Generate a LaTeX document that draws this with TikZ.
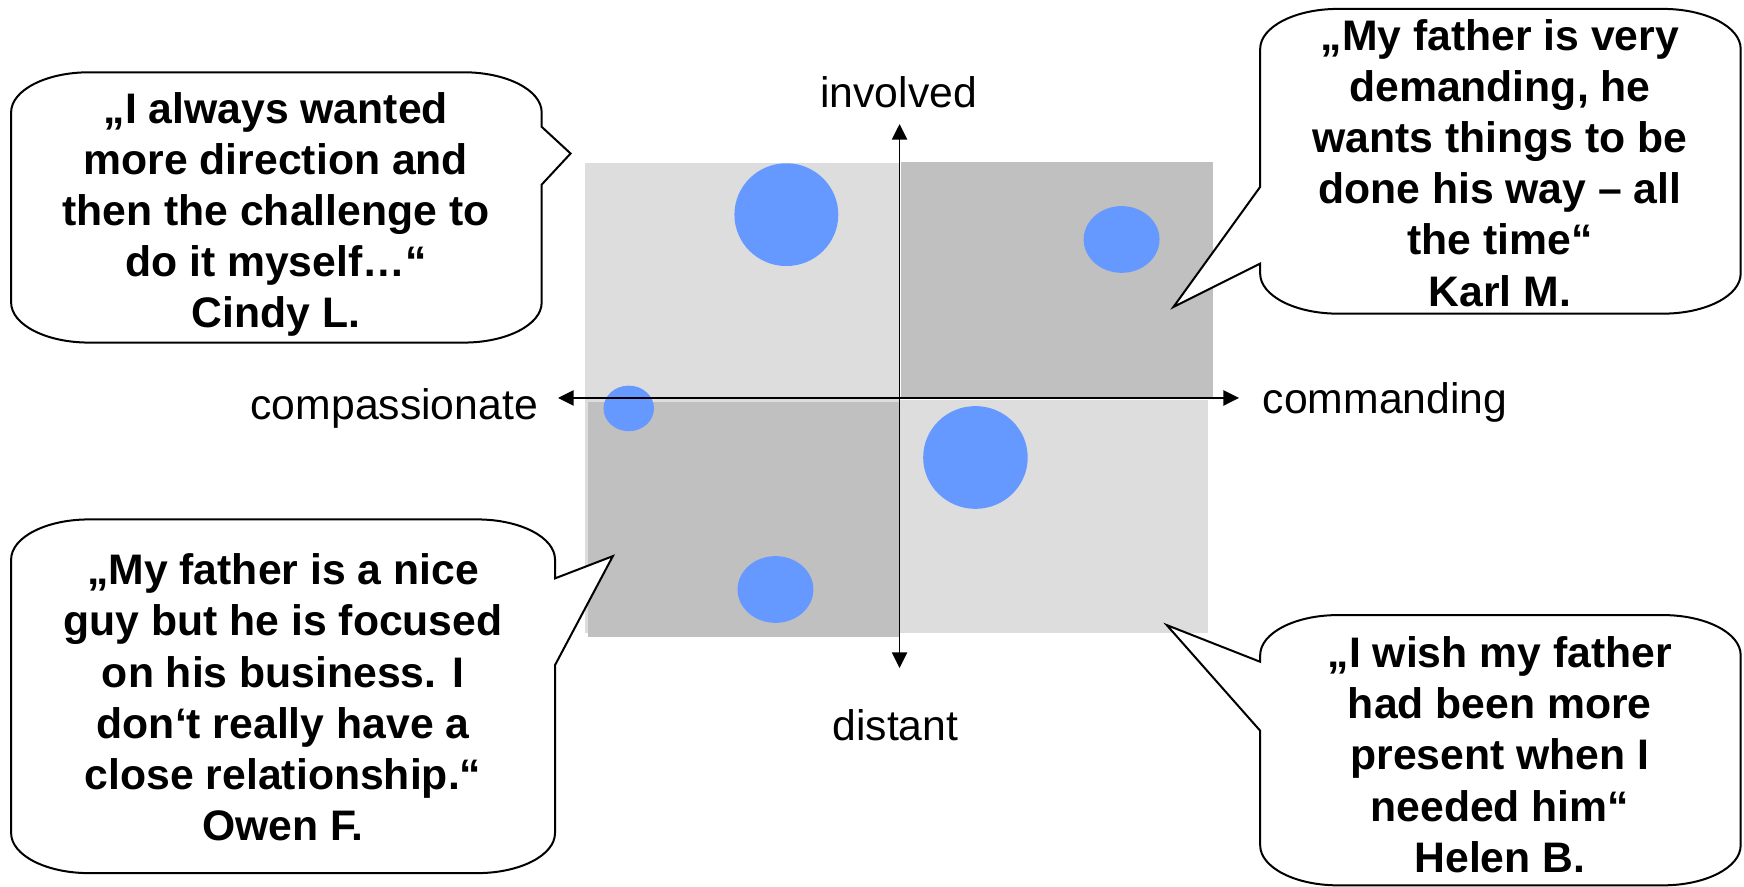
\documentclass[tikz,border=0pt]{standalone}
\usepackage{fontspec}
\setmainfont{Liberation Sans}
\usetikzlibrary{arrows.meta}
\definecolor{quadlight}{HTML}{DDDDDD}
\definecolor{quaddark}{HTML}{C0C0C0}
\definecolor{dotblue}{HTML}{6699FF}
\tikzset{
  bubble/.style={draw=black, line width=0.9pt, fill=white, line join=miter},
  quote/.style={align=center, inner sep=0pt, font=\fontsize{19.2}{23}\selectfont\bfseries},
  axislabel/.style={inner sep=0pt, font=\fontsize{19.2}{23}\selectfont},
  axisline/.style={line width=0.8pt, {Triangle[length=7pt,width=6.8pt]}-{Triangle[length=7pt,width=6.8pt]}},
  dot/.style={fill=dotblue, draw=none}
}
\begin{document}
\begin{tikzpicture}[x=0.5pt, y=-0.5pt]
\useasboundingbox (0,0) rectangle (1568,797);
% quadrants
\fill[quadlight] (526,146.5) rectangle (809,569);
\fill[quadlight] (809,359.4) rectangle (1085.8,569);
\fill[quaddark] (810,146) rectangle (1090.6,357.8);
\fill[quaddark] (529,361) rectangle (808,572.4);
% dots
\fill[dot] (707,193) ellipse [x radius=46.7, y radius=46.2];
\fill[dot] (1008.4,215.3) ellipse [x radius=34.1, y radius=30];
\fill[dot] (565.3,367.2) ellipse [x radius=22.7, y radius=20.5];
\fill[dot] (877,411.3) ellipse [x radius=47, y radius=46.2];
\fill[dot] (697.2,530) ellipse [x radius=34.1, y radius=30];
% axes
\coordinate (hl) at (501.7,357.8);
\coordinate (hr) at (1114,357.8);
\coordinate (vt) at (808.8,111.5);
\coordinate (vb) at (808.8,600.6);
\draw[axisline] (hl) -- (hr);
\draw[axisline] (vb) -- (vt);
% axis labels
\node[axislabel, anchor=base] (involved) at (808,96.8) {involved};
\node[axislabel, anchor=base east] (compassionate) at (484,377) {compassionate};
\node[axislabel, anchor=base west] (commanding) at (1135,372) {commanding};
\node[axislabel, anchor=base] (distant) at (805,666) {distant};
% bubble Cindy
\draw[bubble] (80,65) -- (417,65) .. controls (455.6,65) and (487,81.1) .. (487,101) -- (487,114) -- (513,138) -- (487,166) -- (487,272) .. controls (487,291.9) and (455.6,308) .. (417,308) -- (80,308) .. controls (41.4,308) and (10,291.9) .. (10,272) -- (10,101) .. controls (10,81.1) and (41.4,65) .. (80,65) -- cycle;
\node[quote] (cindy) at (248,192.7) {„I always wanted\\more direction and\\then the challenge to\\do it myself…“\\Cindy L.};
% bubble Karl
\draw[bubble] (1203,8) -- (1495,8) .. controls (1533.6,8) and (1565,24.1) .. (1565,44) -- (1565,246) .. controls (1565,265.9) and (1533.6,282) .. (1495,282) -- (1203,282) .. controls (1164.4,282) and (1133,265.9) .. (1133,246) -- (1133,237) -- (1055,276) -- (1133,168) -- (1133,44) .. controls (1133,24.1) and (1164.4,8) .. (1203,8) -- cycle;
\node[quote] (karl) at (1348.5,146.5) {„My father is very\\demanding, he\\wants things to be\\done his way – all\\the time“\\Karl M.};
% bubble Owen
\draw[bubble] (80,467) -- (429,467) .. controls (467.6,467) and (499,483.1) .. (499,503) -- (499,520) -- (551,500) -- (499,598) -- (499,749) .. controls (499,768.9) and (467.6,785) .. (429,785) -- (80,785) .. controls (41.4,785) and (10,768.9) .. (10,749) -- (10,503) .. controls (10,483.1) and (41.4,467) .. (80,467) -- cycle;
\node[quote] (owen) at (254.5,627) {„My father is a nice\\guy but he is focused\\on his business. I\\don‘t really have a\\close relationship.“\\Owen F.};
% bubble Helen
\draw[bubble] (1203,553) -- (1495,553) .. controls (1533.6,553) and (1565,569.1) .. (1565,589) -- (1565,760) .. controls (1565,779.9) and (1533.6,796) .. (1495,796) -- (1203,796) .. controls (1164.4,796) and (1133,779.9) .. (1133,760) -- (1133,657) -- (1049,562) -- (1133,595) -- (1133,589) .. controls (1133,569.1) and (1164.4,553) .. (1203,553) -- cycle;
\node[quote] (helen) at (1348.5,678.5) {„I wish my father\\had been more\\present when I\\needed him“\\Helen B.};
\end{tikzpicture}
\end{document}
